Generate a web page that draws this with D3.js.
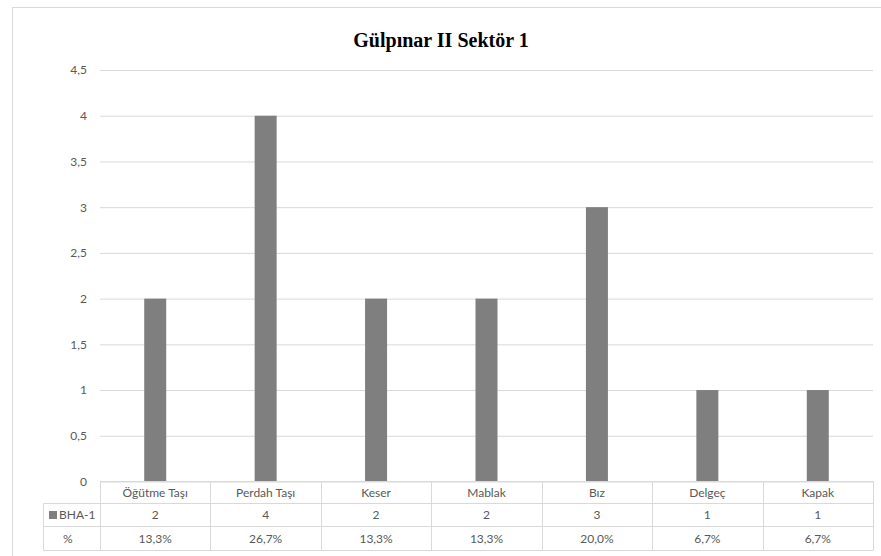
<html>
<head>
<meta charset="UTF-8">
<title>Gülpınar II Sektör 1</title>
<script src="https://d3js.org/d3.v7.min.js"></script>
<style>
  body { margin: 0; background: #fff; }
  text { font-family: Lato, "Open Sans", sans-serif; }
</style>
</head>
<body>
<svg width="881" height="556"></svg>
<script>
// chart data
var categories = ["Öğütme Taşı", "Perdah Taşı", "Keser", "Mablak", "Bız", "Delgeç", "Kapak"];
var values = [2, 4, 2, 2, 3, 1, 1];
var percents = ["13,3%", "26,7%", "13,3%", "13,3%", "20,0%", "6,7%", "6,7%"];
var seriesName = "BHA-1";
var yTicks = [0, 0.5, 1, 1.5, 2, 2.5, 3, 3.5, 4, 4.5];

var svg = d3.select("svg");
var grid = "#d9d9d9", txt = "#595959";

// outer chart border
svg.append("rect")
    .attr("x", 12.5).attr("y", 7.5)
    .attr("width", 900).attr("height", 600)
    .attr("fill", "#fff").attr("stroke", grid);

svg.append("text")
    .attr("x", 441).attr("y", 47)
    .attr("text-anchor", "middle")
    .style("font-family", "'Liberation Serif', 'Times New Roman', serif")
    .style("font-weight", "bold")
    .style("font-size", "20px")
    .attr("fill", "#000")
    .text("Gülpınar II Sektör 1");

var x = d3.scaleBand()
    .domain(categories)
    .range([100, 873])
    .paddingInner(0)
    .paddingOuter(0);

var y = d3.scaleLinear()
    .domain([0, 4.5])
    .range([481.5, 70]);

var fmt = function(d) { return String(d).replace(".", ","); };

// gridlines + labels (tick lines stretched across the plot)
var yAxis = svg.append("g")
    .attr("transform", "translate(100,0)")
    .call(d3.axisLeft(y).tickValues(yTicks).tickSize(-773).tickPadding(13).tickFormat(fmt));
yAxis.select(".domain").remove();
yAxis.selectAll(".tick line").attr("stroke", grid);
yAxis.selectAll(".tick text")
    .attr("fill", txt)
    .style("font-size", "12px")
    .attr("x", -13);

// bars
var barW = 22;
svg.append("g")
  .selectAll("rect")
  .data(values)
  .enter().append("rect")
    .attr("x", function(d, i) { return x(categories[i]) + x.bandwidth() / 2 - barW / 2; })
    .attr("y", function(d) { return y(d); })
    .attr("width", barW)
    .attr("height", function(d) { return y(0) - y(d); })
    .attr("fill", "#7f7f7f");

// data table
var rowTop = [481.5, 503.5, 526.5, 550.5];
var left = 43.5;
var t = svg.append("g").attr("stroke", grid).attr("fill", "none");
t.append("line").attr("x1", 100).attr("x2", 873).attr("y1", rowTop[0]).attr("y2", rowTop[0]);
[1, 2, 3].forEach(function(r) {
  t.append("line").attr("x1", left).attr("x2", 873).attr("y1", rowTop[r]).attr("y2", rowTop[r]);
});
t.append("line").attr("x1", left).attr("x2", left).attr("y1", rowTop[1]).attr("y2", rowTop[3]);
categories.concat(["end"]).forEach(function(c, i) {
  var xx = Math.round(100 + i * x.bandwidth()) + 0.5;
  t.append("line").attr("x1", xx).attr("x2", xx).attr("y1", rowTop[0]).attr("y2", rowTop[3]);
});

var rows = [categories, values, percents];
rows.forEach(function(row, r) {
  svg.append("g").selectAll("text")
    .data(row)
    .enter().append("text")
      .attr("x", function(d, i) { return x(categories[i]) + x.bandwidth() / 2; })
      .attr("y", (rowTop[r] + rowTop[r + 1]) / 2)
      .attr("dy", "0.35em")
      .attr("text-anchor", "middle")
      .attr("fill", txt)
      .style("font-size", "12px")
      .text(function(d) { return d; });
});

// legend key + row labels
svg.append("rect")
    .attr("x", 49).attr("y", 511)
    .attr("width", 8).attr("height", 8)
    .attr("fill", "#7f7f7f");
svg.append("text")
    .attr("x", 59).attr("y", 515).attr("dy", "0.35em")
    .attr("fill", txt).style("font-size", "12px")
    .text(seriesName);
svg.append("text")
    .attr("x", 63).attr("y", 538.5).attr("dy", "0.35em")
    .attr("fill", txt).style("font-size", "12px")
    .text("%");
</script>
</body>
</html>
